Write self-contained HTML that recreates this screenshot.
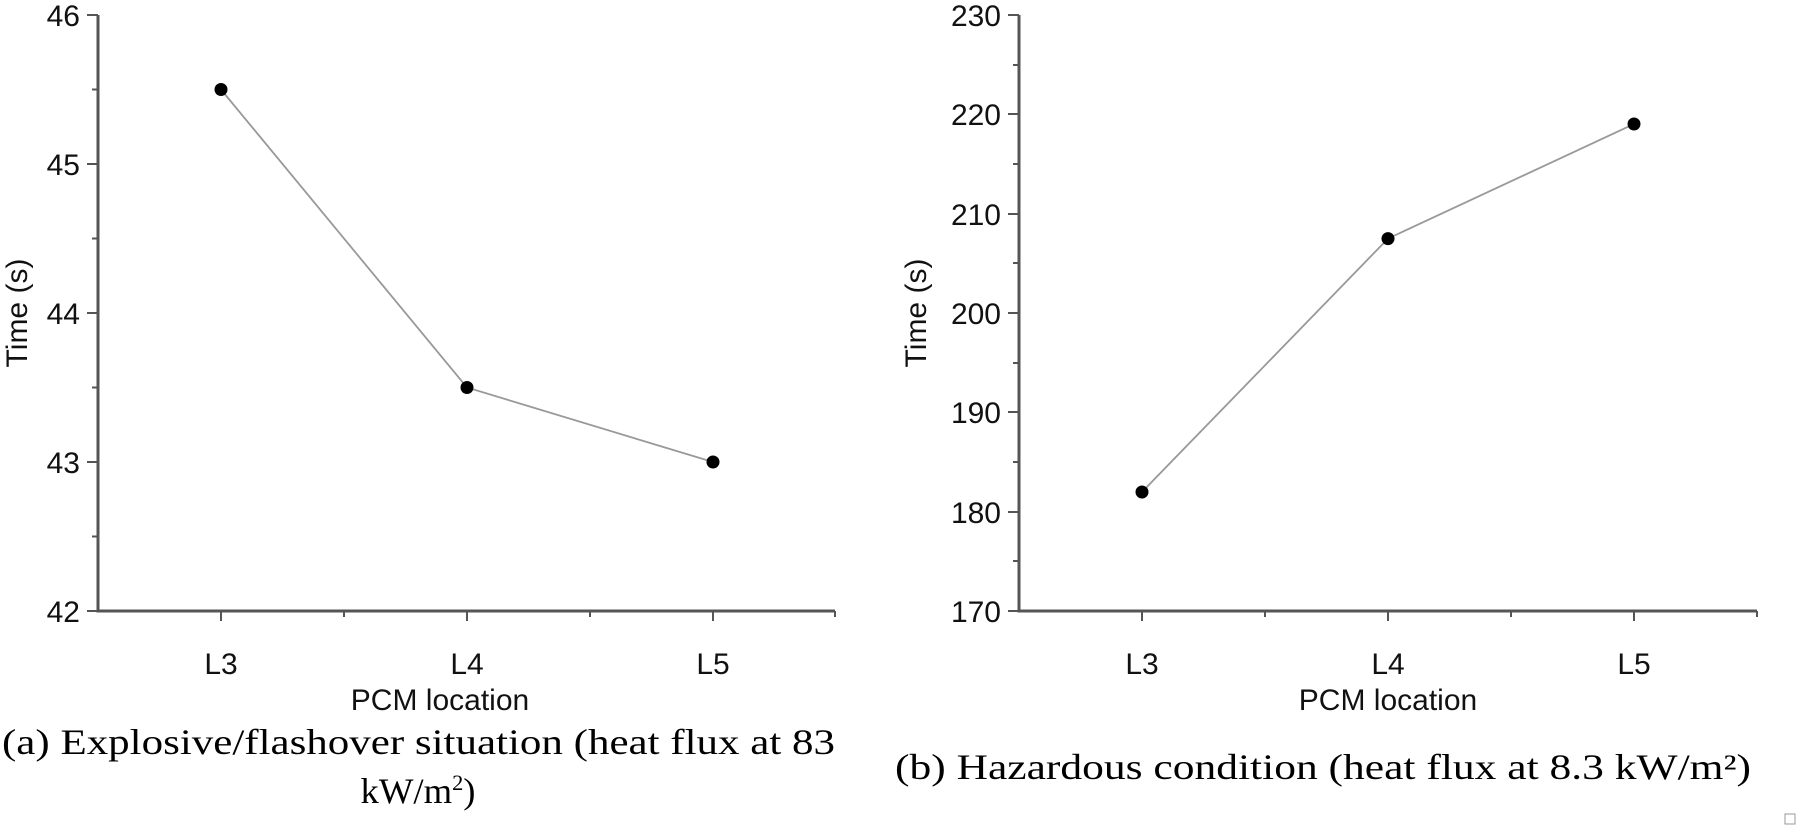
<!DOCTYPE html>
<html><head><meta charset="utf-8"><style>
html,body{margin:0;padding:0;background:#fff;width:1800px;height:827px;overflow:hidden}
</style></head><body>
<svg width="1800" height="827" xmlns="http://www.w3.org/2000/svg" font-family="Liberation Sans, Arial, sans-serif">
<g stroke="#555" stroke-width="3" fill="none">
<path d="M98 15 V611 H835"/>
<path d="M1019 15 V611 H1757"/>
</g>
<g stroke="#555" stroke-width="2">
<path d="M87 15H98M87 164H98M87 313H98M87 462H98M87 611H98"/>
<path d="M92 89.5H98M92 238.5H98M92 387.5H98M92 536.5H98"/>
<path d="M221 611V621M467 611V621M713 611V621M344 611V617M590 611V617M835 611V617"/>
<path d="M1008 15H1019M1008 114H1019M1008 214H1019M1008 313H1019M1008 412H1019M1008 512H1019M1008 611H1019"/>
<path d="M1013 65H1019M1013 164H1019M1013 263H1019M1013 363H1019M1013 462H1019M1013 561H1019"/>
<path d="M1142 611V621M1388 611V621M1634 611V621M1265 611V617M1511 611V617M1757 611V617"/>
</g>
<g font-size="30" fill="#111" text-anchor="end">
<text x="80" y="26">46</text><text x="80" y="175">45</text><text x="80" y="324">44</text><text x="80" y="473">43</text><text x="80" y="622">42</text>
<text x="1001" y="26">230</text><text x="1001" y="125">220</text><text x="1001" y="225">210</text><text x="1001" y="324">200</text><text x="1001" y="423">190</text><text x="1001" y="523">180</text><text x="1001" y="622">170</text>
</g>
<g font-size="30" fill="#111" text-anchor="middle">
<text x="221" y="674">L3</text><text x="467" y="674">L4</text><text x="713" y="674">L5</text>
<text x="1142" y="674">L3</text><text x="1388" y="674">L4</text><text x="1634" y="674">L5</text>
<text x="440" y="710">PCM location</text><text x="1388" y="710">PCM location</text>
<text transform="translate(27,313) rotate(-90)">Time (s)</text>
<text transform="translate(926,313) rotate(-90)">Time (s)</text>
</g>
<g stroke="#999" stroke-width="1.8" fill="none">
<polyline points="221,89.5 467,387.5 713,462"/>
<polyline points="1142,492 1388,238.6 1634,124"/>
</g>
<g fill="#000">
<circle cx="221" cy="89.5" r="6.5"/><circle cx="467" cy="387.5" r="6.5"/><circle cx="713" cy="462" r="6.5"/>
<circle cx="1142" cy="492" r="6.5"/><circle cx="1388" cy="238.6" r="6.5"/><circle cx="1634" cy="124" r="6.5"/>
</g>
<g font-family="Liberation Serif, Times New Roman, serif" font-size="36" fill="#000">
<text x="2" y="754" textLength="833" lengthAdjust="spacingAndGlyphs">(a) Explosive/flashover  situation (heat flux at 83</text>
<text x="418" y="803" text-anchor="middle" textLength="115" lengthAdjust="spacingAndGlyphs">kW/m<tspan font-size="22" dy="-13">2</tspan><tspan dy="13">)</tspan></text>
<text x="895" y="779" textLength="856" lengthAdjust="spacingAndGlyphs">(b) Hazardous condition (heat flux at 8.3 kW/m²)</text>
</g>
<rect x="1785" y="814" width="10" height="10" fill="none" stroke="#999" stroke-width="1"/>
</svg>
</body></html>
